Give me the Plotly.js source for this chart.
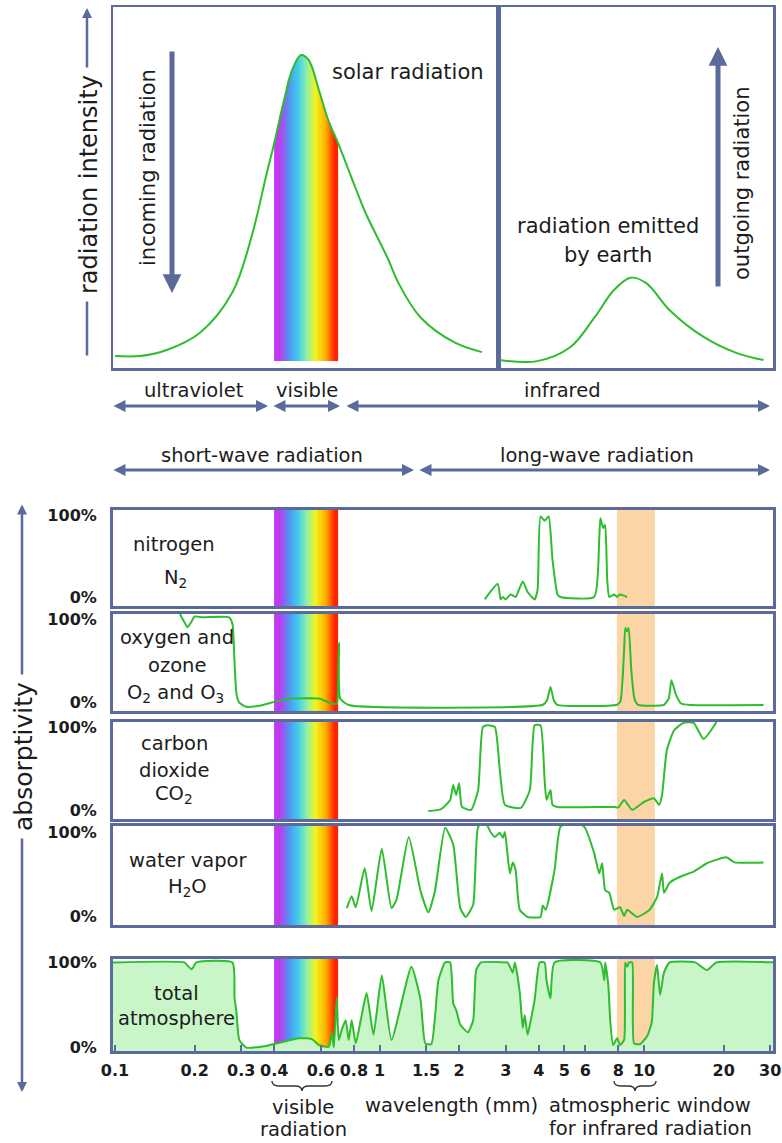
<!DOCTYPE html>
<html><head><meta charset="utf-8">
<script src="https://cdn.plot.ly/plotly-3.0.1.min.js"></script>
<style>html,body{margin:0;padding:0;background:#fff;} #chart{width:782px;height:1143px;}</style>
</head><body><div id="chart"></div>
<script>
// ---------------- data (wavelength in micrometres, values in %) ----------------
const solarWl = [0.1, 0.124, 0.157, 0.209, 0.278, 0.33, 0.372, 0.399, 0.435, 0.467, 0.505, 0.54, 0.59, 0.64, 0.70, 0.81, 0.885, 1.08, 1.18, 1.43, 1.93, 2.44];
const solarIntensity = [3.3, 3.3, 5.0, 9.7, 21, 37, 53, 62, 74, 82.5, 86.7, 85.3, 77, 68.7, 62, 50, 43, 30, 23.5, 14, 7, 4.4];
const earthWl = [2.85, 3.95, 5.27, 6.5, 7.7, 8.9, 10.2, 12.5, 16.8, 22.3, 28.3];
const earthIntensity = [2.2, 1.9, 5.8, 14, 21.6, 25, 23.5, 16, 8.6, 4.2, 2.2];

const n2Wl = [2.50, 2.80, 2.87, 2.93, 3.00, 3.13, 3.27, 3.48, 3.63, 3.86, 3.96, 4.06, 4.21, 4.36, 4.51, 4.71, 4.83, 6.48, 6.77, 6.84, 7.01, 7.13, 7.26, 7.39, 7.71, 7.91, 8.12, 8.63];
const n2Abs = [-2, 17, -2, 1, -2, 4, 1, 20, 7, -2, 10, 99, 94, 99, 46, 4, 1, 1, 71, 97, 85, 89, 22, 1, 4, 1, 4, 1];

const o2Wl = [0.176, 0.183, 0.188, 0.194, 0.200, 0.215, 0.270, 0.278, 0.283, 0.288, 0.295, 0.314, 0.360, 0.400, 0.467, 0.590, 0.661, 0.690, 0.698, 0.703, 0.710, 0.765, 4.15, 4.30, 4.43, 4.56, 4.70, 7.91, 8.15, 8.40, 8.50, 8.63, 8.75, 8.95, 9.20, 9.50, 11.9, 12.4, 12.7, 13.2, 13.8, 15.0, 28.3];
const o2Abs = [107, 97, 91, 97, 104, 103, 103, 95, 50, 10, 0, -5, -3, 1, 5, 5, -1, -1, 30, 72, 5, -2.8, -2.5, 3, 19, 3, -2.5, -2.5, 2, 60, 90, 86, 90, 40, 5, -2.5, -2.5, 5, 27, 10, -1, -2.8, -2.8];

const co2Wl = [1.53, 1.71, 1.85, 1.90, 1.95, 2.00, 2.05, 2.22, 2.36, 2.46, 2.57, 2.73, 2.85, 2.98, 3.42, 3.70, 3.86, 4.06, 4.21, 4.28, 4.43, 4.51, 4.71, 7.71, 8.0, 8.41, 9.02, 10.0, 10.9, 11.4, 11.7, 12.2, 13.0, 14.1, 15.4, 16.8, 18.8];
const co2Abs = [-0.4, 2, 13, 31, 19, 33, 4.5, 1, 25, 101, 103, 101, 49, 7, 3.3, 25, 103, 103, 37, 13, 25, 7, 4.5, 4.5, 4, 13, 1, 10.5, 15, 7, 19, 73, 97, 106, 106, 86.5, 107];

const h2oWl = [0.752, 0.785, 0.813, 0.879, 0.933, 1.02, 1.11, 1.16, 1.29, 1.43, 1.53, 1.62, 1.77, 1.90, 2.02, 2.12, 2.26, 2.36, 2.50, 2.64, 2.73, 2.85, 2.93, 2.98, 3.11, 3.19, 3.27, 3.39, 3.63, 4.06, 4.14, 4.25, 4.59, 4.83, 5.30, 5.95, 6.48, 6.77, 6.95, 7.13, 7.39, 7.71, 8.12, 8.41, 8.63, 9.42, 10.5, 11.2, 11.7, 11.9, 12.5, 13.7, 15.4, 17.3, 20.5, 22.0, 28.3];
const h2oAbs = [10, 24, 11, 57, 6.5, 80, 10, 20, 94, 30, 5, 30, 105, 85, 10, -0.5, 14, 106, 112, 99, 94, 99, 93, 100, 51, 64, 55, 8, -0.5, -0.5, 13, 8, 55, 106, 112, 106, 75, 51, 63, 31, 28, 8, 11, 0.6, 8, -0.5, 8, 23, 51, 28, 40, 47, 53, 63, 70, 64, 64];

const totalWl = [0.098, 0.183, 0.187, 0.195, 0.203, 0.278, 0.283, 0.288, 0.295, 0.314, 0.373, 0.496, 0.555, 0.590, 0.643, 0.661, 0.672, 0.689, 0.701, 0.720, 0.745, 0.765, 0.785, 0.813, 0.849, 0.894, 0.949, 1.02, 1.11, 1.32, 1.43, 1.49, 1.57, 1.67, 1.77, 1.85, 1.90, 1.95, 2.02, 2.16, 2.26, 2.32, 2.42, 2.98, 3.05, 3.11, 3.19, 3.25, 3.39, 3.48, 3.54, 3.63, 3.73, 3.86, 4.03, 4.21, 4.28, 4.43, 4.59, 6.84, 7.08, 7.13, 7.33, 7.45, 7.64, 7.91, 8.12, 8.41, 8.49, 8.63, 8.79, 9.02, 9.17, 9.66, 10.3, 10.7, 10.9, 11.2, 11.5, 11.9, 12.5, 15.6, 17.3, 18.8, 32];
const totalAbs = [100, 100, 97, 92, 100, 100, 59, 41, 9, 0, 2, 11, 10, 3, 1, 17, 0, 59, 9, 21, 32, 9, 32, 5, 32, 64, 15, 85, 9, 95, 56, 5, 4, 79, 100, 100, 52, 44, 27, 18, 32, 91, 100, 100, 100, 95, 88, 100, 65, 23, 38, 15, 32, 56, 100, 100, 79, 58, 100, 100, 79, 100, 73, 32, 3, 11, 3, 9, 100, 95, 100, 100, 5, 4, 14, 30, 75, 97, 62, 88, 100, 100, 91, 100, 100];

const xTickVals = [0.1, 0.2, 0.3, 0.4, 0.6, 0.8, 1, 1.5, 2, 3, 4, 5, 6, 8, 10, 20, 30];
const xTickText = ['0.1', '0.2', '0.3', '0.4', '0.6', '0.8', '1', '1.5', '2', '3', '4', '5', '6', '8', '10', '20', '30'];
const yTickVals = [0, 100];
const yTickText = ['0%', '100%'];

const rainbowWl = [0.416, 0.451, 0.489, 0.529, 0.573, 0.621, 0.672];
const rainbowColors = ['#c03af0', '#5590f2', '#3fcbef', '#8ef0a8', '#f2f520', '#ffb000', '#ff2200'];
const windowWl = [7.9, 11];

// ---------------- layout helpers ----------------
const W = 782, H = 1143;
const px = x => x / W;
const py = y => 1 - y / H;
const FONT = 'DejaVu Sans';
const TXT = '#1c1c1c';
const FRAME = '#5b6a9b';
const GREEN = '#2dbd2d';
const XR_FULL = [-1.00756, 1.4877];
const XR_LEFT = [-1.00756, 0.44802];
const XR_RIGHT = [0.44802, 1.4877];

const rainbowZ = [rainbowWl.map((_, i) => i), rainbowWl.map((_, i) => i)];
const rainbowScale = rainbowColors.map((c, i) => [i / (rainbowColors.length - 1), c]);

function rainbow(xa, ya, yc) {
  return {type: 'heatmap', x: rainbowWl, y: yc, z: rainbowZ, xaxis: xa, yaxis: ya,
    colorscale: rainbowScale, zmin: 0, zmax: rainbowWl.length - 1, zsmooth: 'best',
    showscale: false, hoverinfo: 'skip'};
}

const data = [];
// top left: solar
data.push(rainbow('x', 'y', [52, 152]));
data.push({type: 'scatter', mode: 'lines', x: [solarWl[0], solarWl[solarWl.length - 1]], y: [100, 100],
  xaxis: 'x', yaxis: 'y', line: {width: 0, color: 'rgba(0,0,0,0)'}, hoverinfo: 'skip'});
data.push({type: 'scatter', mode: 'lines', x: solarWl, y: solarIntensity, xaxis: 'x', yaxis: 'y',
  fill: 'tonexty', fillcolor: '#ffffff', line: {color: GREEN, width: 2, shape: 'spline', smoothing: 1}});
// top right: earth
data.push({type: 'scatter', mode: 'lines', x: earthWl, y: earthIntensity, xaxis: 'x2', yaxis: 'y2',
  line: {color: GREEN, width: 2, shape: 'spline', smoothing: 1}});

const panels = [
  {wl: n2Wl, abs: n2Abs, top: 510, bottom: 606},
  {wl: o2Wl, abs: o2Abs, top: 614, bottom: 711},
  {wl: co2Wl, abs: co2Abs, top: 722, bottom: 819},
  {wl: h2oWl, abs: h2oAbs, top: 826, bottom: 925},
  {wl: totalWl, abs: totalAbs, top: 959, bottom: 1051, total: true}
];

const layout = {
  width: W, height: H, autosize: false,
  margin: {l: 0, r: 0, t: 0, b: 0},
  paper_bgcolor: '#ffffff', plot_bgcolor: '#ffffff',
  showlegend: false, hovermode: false,
  font: {family: FONT, color: TXT},
  shapes: [], annotations: []
};

const axBase = {showline: true, mirror: true, linecolor: FRAME, showgrid: false, zeroline: false,
  ticks: '', showticklabels: false, fixedrange: true};

layout.xaxis = Object.assign({}, axBase, {type: 'log', domain: [px(113), px(498)], range: XR_LEFT, anchor: 'y', linewidth: 2.5});
layout.yaxis = Object.assign({}, axBase, {domain: [py(368), py(7)], range: [0, 100], anchor: 'x', linewidth: 2.5});
layout.xaxis2 = Object.assign({}, axBase, {type: 'log', domain: [px(498), px(773)], range: XR_RIGHT, anchor: 'y2', linewidth: 2.5});
layout.yaxis2 = Object.assign({}, axBase, {domain: [py(368), py(7)], range: [0, 100], anchor: 'x2', linewidth: 2.5});

panels.forEach((p, i) => {
  const n = i + 3;
  const xa = 'x' + n, ya = 'y' + n;
  const yr = p.total ? [-4, 104] : [-10, 107];
  layout['xaxis' + n] = Object.assign({}, axBase, {type: 'log', domain: [px(113), px(773)], range: XR_FULL,
    anchor: ya, linewidth: 3});
  layout['yaxis' + n] = Object.assign({}, axBase, {domain: [py(p.bottom), py(p.top)], range: yr, anchor: xa,
    linewidth: 3, showticklabels: true, tickvals: yTickVals, ticktext: yTickText, ticklabelstandoff: 10,
    tickfont: {family: FONT, size: 16, color: TXT, weight: 'bold'}});
  if (p.total) {
    Object.assign(layout['xaxis' + n], {showticklabels: true, tickvals: xTickVals, ticktext: xTickText,
      ticks: 'inside', ticklen: 6, tickwidth: 2, tickcolor: FRAME, ticklabelstandoff: 3,
      tickfont: {family: FONT, size: 16, color: TXT, weight: 'bold'}});
  }
  data.push(rainbow(xa, ya, [-60, 160]));
  layout.shapes.push({type: 'rect', xref: xa, yref: ya + ' domain', x0: windowWl[0], x1: windowWl[1], y0: 0, y1: 1,
    fillcolor: '#fbd5a6', line: {width: 0}, layer: 'below'});
  if (p.total) {
    data.push({type: 'scatter', mode: 'lines', x: [p.wl[0], p.wl[p.wl.length - 1]], y: [-4, -4], xaxis: xa, yaxis: ya,
      line: {width: 0, color: 'rgba(0,0,0,0)'}, hoverinfo: 'skip'});
    data.push({type: 'scatter', mode: 'lines', x: p.wl, y: p.abs, xaxis: xa, yaxis: ya, fill: 'tonexty',
      fillcolor: '#c8f6c8', line: {color: GREEN, width: 2, shape: 'spline', smoothing: 0.5}});
  } else {
    data.push({type: 'scatter', mode: 'lines', x: p.wl, y: p.abs, xaxis: xa, yaxis: ya,
      line: {color: GREEN, width: 2, shape: 'spline', smoothing: 0.5}});
  }
});

// ---------------- annotations ----------------
function lbl(text, x, y, size, extra) {
  return Object.assign({text: text, x: px(x), y: py(y), xref: 'paper', yref: 'paper', showarrow: false,
    xanchor: 'center', yanchor: 'middle',
    font: {family: FONT, size: size, color: TXT}}, extra || {});
}
function arrow(x0, y0, x1, y1, w, s, both) {
  return {text: '', x: px(x1), y: py(y1), xref: 'paper', yref: 'paper', ax: x0 - x1, ay: y0 - y1,
    axref: 'pixel', ayref: 'pixel', showarrow: true, arrowcolor: FRAME, arrowwidth: w, arrowhead: 2,
    arrowsize: s, startarrowhead: 2, startarrowsize: s, arrowside: both ? 'end+start' : 'end', standoff: 0, startstandoff: 0};
}
const A = layout.annotations;
// axis arrows
A.push(arrow(87, 357, 87, 8, 2.5, 0.8));
A.push(lbl('radiation intensity', 89, 185, 24, {textangle: -90, bgcolor: '#ffffff', borderpad: 7}));
A.push(arrow(22, 503, 22, 1092, 2.5, 0.8, true));
A.push(lbl('absorptivity', 23, 757, 25, {textangle: -90, bgcolor: '#ffffff', borderpad: 7}));
// top panel
A.push(arrow(172, 50, 172, 293, 5, 0.75));
A.push(lbl('incoming radiation', 148, 168, 21, {textangle: -90}));
A.push(lbl('solar radiation', 330, 72, 21, {xanchor: 'left'}));
A.push(lbl('radiation emitted', 608, 226, 21));
A.push(lbl('by earth', 608, 255, 21));
A.push(arrow(718, 288, 718, 47, 5, 0.75));
A.push(lbl('outgoing radiation', 742, 184, 21, {textangle: -90}));
// spectral ranges
A.push(lbl('ultraviolet', 194, 391, 19.5));
A.push(lbl('visible', 307, 391, 19.5));
A.push(lbl('infrared', 562, 391, 19.5));
A.push(arrow(112, 406, 268, 406, 3, 0.8, true));
A.push(arrow(272, 406, 340, 406, 3, 0.8, true));
A.push(arrow(345, 406, 770, 406, 3, 0.8, true));
A.push(lbl('short-wave radiation', 262, 455, 19.5));
A.push(lbl('long-wave radiation', 597, 455, 19.5));
A.push(arrow(112, 470, 414, 470, 3, 0.8, true));
A.push(arrow(418, 470, 770, 470, 3, 0.8, true));
// panel labels
A.push(lbl('nitrogen', 174, 545, 19.5));
A.push(lbl('N<sub>2</sub>', 175, 578, 19.5));
A.push(lbl('oxygen and', 177, 637, 19.5));
A.push(lbl('ozone', 177, 665, 19.5));
A.push(lbl('O<sub>2</sub> and O<sub>3</sub>', 175, 694, 19.5));
A.push(lbl('carbon', 174, 743, 19.5));
A.push(lbl('dioxide', 174, 770, 19.5));
A.push(lbl('CO<sub>2</sub>', 174, 795, 19.5));
A.push(lbl('water vapor', 188, 860, 19.5));
A.push(lbl('H<sub>2</sub>O', 187, 887, 19.5));
A.push(lbl('total', 176, 993, 19.5));
A.push(lbl('atmosphere', 176, 1018, 19.5));
// bottom texts
A.push(lbl('visible', 303, 1107, 19.5));
A.push(lbl('radiation', 303, 1129, 19.5));
A.push(lbl('wavelength (mm)', 452, 1105, 19.5));
A.push(lbl('atmospheric window', 650, 1105, 19.5));
A.push(lbl('for infrared radiation', 650, 1128, 19.5));

function bracePath(x0, x1, y) {
  const xm = (x0 + x1) / 2, d = 5;
  return 'M' + px(x0) + ',' + py(y - d) +
    ' Q' + px(x0) + ',' + py(y) + ' ' + px(x0 + d + 2) + ',' + py(y) +
    ' L' + px(xm - d - 2) + ',' + py(y) +
    ' Q' + px(xm) + ',' + py(y) + ' ' + px(xm) + ',' + py(y + d) +
    ' Q' + px(xm) + ',' + py(y) + ' ' + px(xm + d + 2) + ',' + py(y) +
    ' L' + px(x1 - d - 2) + ',' + py(y) +
    ' Q' + px(x1) + ',' + py(y) + ' ' + px(x1) + ',' + py(y - d);
}
layout.shapes.push({type: 'path', xref: 'paper', yref: 'paper', path: bracePath(272, 332, 1086), line: {color: '#333333', width: 1.4}});
layout.shapes.push({type: 'path', xref: 'paper', yref: 'paper', path: bracePath(614, 656, 1086), line: {color: '#333333', width: 1.4}});

Plotly.newPlot('chart', data, layout, {staticPlot: true, displayModeBar: false});
</script>
</body></html>
